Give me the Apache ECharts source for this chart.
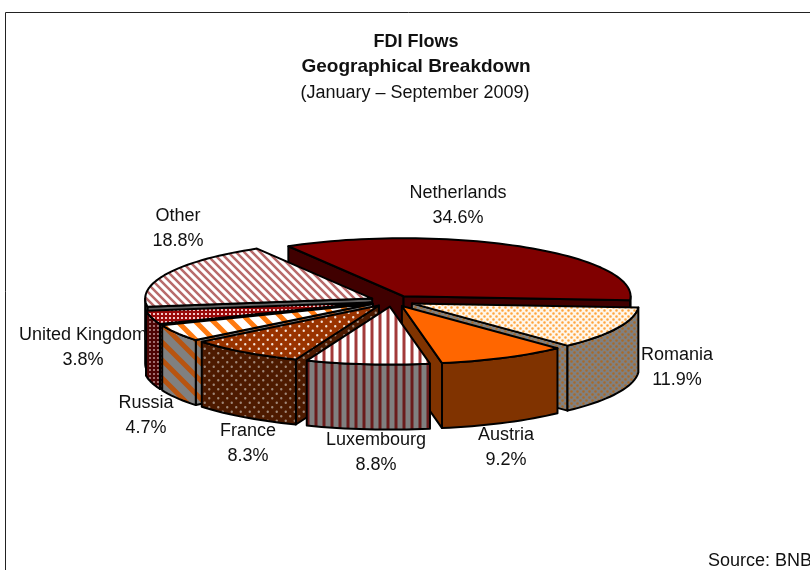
<!DOCTYPE html>
<html>
<head>
<meta charset="utf-8">
<style>
  html, body { margin: 0; padding: 0; background: #fff; }
  #chart { width: 810px; height: 570px; overflow: hidden; }
</style>
<script src="https://cdn.jsdelivr.net/npm/echarts@6/dist/echarts.min.js"></script>
</head>
<body>
<div id="chart"></div>
<script>
const categories = ['Netherlands', 'Romania', 'Austria', 'Luxembourg', 'France', 'Russia', 'United Kingdom', 'Other'];
const shares = [34.6, 11.9, 9.2, 8.8, 8.3, 4.7, 3.8, 18.8];

// pie projection (tilted disc, exploded slices)
const cx = 392, cy = 301, rx = 227, ry = 58, depth = 65, explode = 22, startAngle = 120.5;
const total = shares.reduce((a, b) => a + b, 0);

// label anchors, same order as categories
const labelX = [458, 677, 506, 376, 248, 146, 83, 178];
const labelY = [206, 368, 448, 453, 444, 415.5, 347.5, 229];

function tile(w, h, bg, draw) {
  const c = document.createElement('canvas');
  c.width = w; c.height = h;
  const g = c.getContext('2d');
  g.fillStyle = bg;
  g.fillRect(0, 0, w, h);
  draw(g);
  return { image: c, repeat: 'repeat' };
}
function dots(bg, col, size, step) {
  return tile(step, step, bg, g => {
    g.fillStyle = col;
    g.beginPath();
    g.arc(step / 4, step / 4, size, 0, 7);
    g.arc(step * 3 / 4, step * 3 / 4, size, 0, 7);
    g.fill();
  });
}
function gridDots(bg, col, size, step) {
  return tile(step, step, bg, g => {
    g.fillStyle = col;
    g.fillRect((step - size) / 2, (step - size) / 2, size, size);
  });
}
function vstripes(bg, col, step, width) {
  return tile(step, 4, bg, g => {
    g.fillStyle = col;
    g.fillRect(step / 2 - width / 2, 0, width, 4);
  });
}
function dstripes(bg, col, step, width) {
  return tile(step, step, bg, g => {
    g.strokeStyle = col;
    g.lineWidth = width;
    g.beginPath();
    for (let i = -1; i <= 1; i++) {
      g.moveTo(i * step - 2, -2);
      g.lineTo(i * step + step + 2, step + 2);
    }
    g.stroke();
  });
}

const topFill = [
  '#800000',
  dots('#fff6ea', '#ffa53f', 1.3, 6),
  '#ff6600',
  vstripes('#ffffff', '#a33a3a', 8, 3),
  dots('#993300', '#f3e3d8', 1.2, 9),
  dstripes('#ffffff', '#ff7a10', 18, 5),
  gridDots('#990a0a', '#f2c8c8', 2, 4),
  dstripes('#ffffff', '#b86a6a', 8, 2.5)
];
const wallFill = [
  '#400000',
  dots('#808080', '#a86a2a', 1.3, 6),
  '#803300',
  vstripes('#808080', '#6a1c1c', 8, 3),
  dots('#4d1a00', '#a08878', 1.2, 9),
  dstripes('#808080', '#b85410', 18, 5),
  gridDots('#4d0505', '#a07070', 2, 4),
  '#606060'
];

// clockwise from startAngle
const from = [], to = [];
shares.reduce((acc, v, i) => {
  from[i] = startAngle - acc / total * 360;
  to[i] = startAngle - (acc + v) / total * 360;
  return acc + v;
}, 0);

// painter's order: back slices first
const order = categories.map((c, i) => i).sort((a, b) =>
  Math.sin((from[b] + to[b]) / 360 * Math.PI) - Math.sin((from[a] + to[a]) / 360 * Math.PI));
const seriesData = order.map(i => [shares[i], i]);

function rad(d) { return d / 180 * Math.PI; }

function renderSlice(params, api) {
  const i = api.value(1);
  const a0 = from[i], a1 = to[i], mid = rad((a0 + a1) / 2);
  const ox = cx + explode * Math.cos(mid);
  const oy = cy - explode * Math.sin(mid) * ry / rx;
  const pt = a => [ox + rx * Math.cos(rad(a)), oy - ry * Math.sin(rad(a))];
  const down = p => [p[0], p[1] + depth];
  const arc = [];
  const n = Math.ceil((a0 - a1) / 2);
  for (let k = 0; k <= n; k++) arc.push(pt(a0 + (a1 - a0) * k / n));
  const apex = [ox, oy];
  const base = { stroke: '#000', lineWidth: 2, lineJoin: 'round' };
  const children = [];
  const poly = (points, fill) => children.push({
    type: 'polygon',
    shape: { points: points },
    style: Object.assign({ fill: fill }, base)
  });

  // flat cut faces, only the ones turned to the viewer
  if (Math.sin(rad(a0 + 90)) < 0) poly([apex, arc[0], down(arc[0]), down(apex)], wallFill[i]);
  if (Math.sin(rad(a1 - 90)) < 0) poly([apex, arc[n], down(arc[n]), down(apex)], wallFill[i]);
  // rim, front half only
  const rim = arc.filter(p => p[1] >= oy - 1);
  if (rim.length > 1) poly(rim.concat(rim.map(down).reverse()), wallFill[i]);
  // top face
  poly([apex].concat(arc), topFill[i]);
  return { type: 'group', children: children };
}

function renderLabel(params, api) {
  const i = api.value(1);
  return {
    type: 'text',
    style: {
      x: labelX[i], y: labelY[i],
      text: categories[i] + '\n' + shares[i].toFixed(1) + '%',
      align: 'center', verticalAlign: 'middle',
      fill: '#111', font: '18px "Liberation Sans", Arial, sans-serif', lineHeight: 25
    }
  };
}

const chart = echarts.init(document.getElementById('chart'), null, { renderer: 'canvas' });
chart.setOption({
  animation: false,
  backgroundColor: '#ffffff',
  tooltip: { show: false },
  graphic: [
    { type: 'rect', shape: { x: 5.5, y: 12.5, width: 900, height: 700 }, style: { fill: 'none', stroke: '#222', lineWidth: 1 }, silent: true },
    { type: 'text', style: { x: 416, y: 42, text: 'FDI Flows', align: 'center', verticalAlign: 'middle', fill: '#111', font: 'bold 18px "Liberation Sans", Arial, sans-serif' } },
    { type: 'text', style: { x: 416, y: 67, text: 'Geographical Breakdown', align: 'center', verticalAlign: 'middle', fill: '#111', font: 'bold 19px "Liberation Sans", Arial, sans-serif' } },
    { type: 'text', style: { x: 415, y: 93, text: '(January \u2013 September 2009)', align: 'center', verticalAlign: 'middle', fill: '#111', font: '18px "Liberation Sans", Arial, sans-serif' } },
    { type: 'text', style: { x: 708, y: 561, text: 'Source: BNB', align: 'left', verticalAlign: 'middle', fill: '#111', font: '18px "Liberation Sans", Arial, sans-serif' } }
  ],
  series: [
    { type: 'custom', coordinateSystem: 'none', silent: true, data: seriesData, renderItem: renderSlice },
    { type: 'custom', coordinateSystem: 'none', silent: true, data: seriesData, renderItem: renderLabel }
  ]
});
</script>
</body>
</html>
